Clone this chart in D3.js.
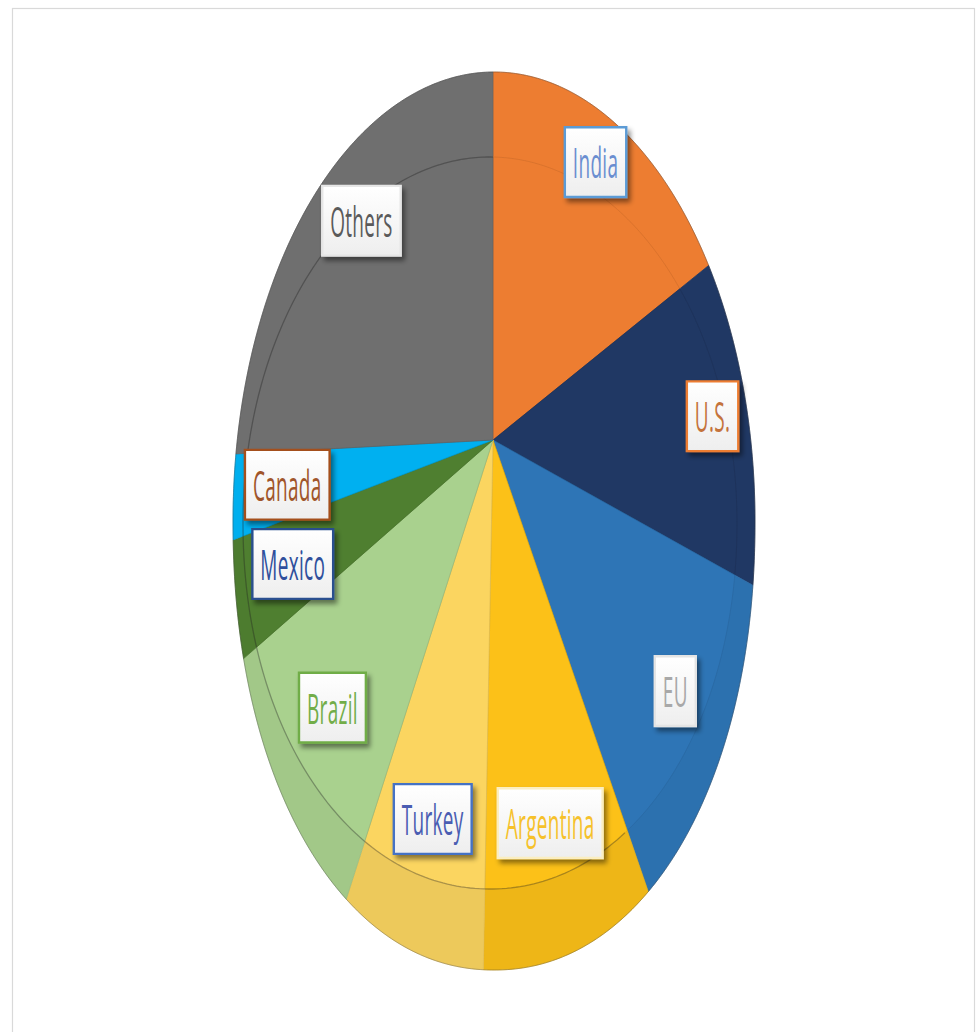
<!DOCTYPE html>
<html><head><meta charset="utf-8">
<script src="https://cdn.jsdelivr.net/npm/d3@7"></script>
<style>html,body{margin:0;padding:0;background:#fff;} svg{display:block;}</style>
</head><body>
<svg id="chart" width="980" height="1032"></svg>
<script>
// ---- data (percent share) ----
const categories = ["India", "U.S.", "EU", "Argentina", "Turkey", "Brazil", "Mexico", "Canada", "Others"];
const shares     = [18, 12, 11.5, 9, 7.5, 9.5, 4, 3, 25.5];
const sliceColors  = ["#ed7d31", "#203864", "#2e75b6", "#fcc118", "#fbd560", "#a9d18e", "#4f7f30", "#00b0f0", "#6f6f6f"];
const labelBorders = ["#5b9bd5", "#ed7d31", "#e4e4e4", "#fbeec0", "#4472c4", "#70ad47", "#2a4f8f", "#a4501c", "#e6e6e6"];
const labelColors  = ["#6a8ed0", "#c4733c", "#a8a8a8", "#f6c12a", "#4a5db2", "#72ad49", "#2f4f9c", "#a0552a", "#5a5a5a"];

// ---- layout ----
const svg = d3.select("#chart");
const apex = [493, 440];
const outerE = {cx: 494, cy: 521, rx: 261, ry: 449, nLow: 2.1};
const innerE = {cx: 490, cy: 523, rx: 247, ry: 366, nLow: 2.05};
const tilt = 1.72;

function inside(x, y, e) {
  const n = y > e.cy ? e.nLow : 2;
  return Math.pow(Math.abs((x - e.cx) / e.rx), n) + Math.pow(Math.abs((y - e.cy) / e.ry), n);
}
function rim(a, e) {
  const dx = Math.sin(a), dy = -Math.cos(a) * tilt;
  let lo = 0, hi = 1200;
  for (let k = 0; k < 40; k++) {
    const m = (lo + hi) / 2;
    if (inside(apex[0] + dx * m, apex[1] + dy * m, e) < 1) lo = m; else hi = m;
  }
  return [apex[0] + dx * lo, apex[1] + dy * lo];
}
function slicePts(s, e, ell) {
  const n = Math.max(2, Math.ceil((e - s) / (Math.PI / 360)));
  const pts = [apex];
  for (let i = 0; i <= n; i++) pts.push(rim(s + (e - s) * i / n, ell));
  return pts;
}
const line = d3.line();
const arcs = d3.pie().sort(null).value(d => d)(shares);

// frame
svg.append("rect").attr("x", 12.5).attr("y", 8.5).attr("width", 962).attr("height", 1040)
  .attr("fill", "#fff").attr("stroke", "#d9d9d9").attr("stroke-width", 1.2);

// side / bevel band
svg.append("g").selectAll("path").data(arcs).join("path")
  .attr("d", d => line(slicePts(d.startAngle, d.endAngle, outerE)) + "Z")
  .attr("fill", (d, i) => {
    const mid = (d.startAngle + d.endAngle) / 2;
    return d3.color(sliceColors[i]).darker(0.17 * Math.max(0, -Math.cos(mid))).formatHex();
  })
  .attr("stroke", (d, i) => d3.color(sliceColors[i]).darker(0.3).formatHex())
  .attr("stroke-width", 0.7);

// top face
svg.append("g").selectAll("path").data(arcs).join("path")
  .attr("d", d => line(slicePts(d.startAngle, d.endAngle, innerE)) + "Z")
  .attr("fill", (d, i) => sliceColors[i])
  .attr("stroke", (d, i) => d3.color(sliceColors[i]).darker(0.35).formatHex())
  .attr("stroke-width", 0.7);

// bevel edge line (visible from the lower right round to the top)
const ringPts = d3.range(150, 361, 1).map(k => rim(k * Math.PI / 180, innerE));
svg.append("path").attr("d", line(ringPts)).attr("fill", "none")
  .attr("stroke", "rgba(40,40,40,0.32)").attr("stroke-width", 1.3);
// outer outline
const outPts = d3.range(0, 361, 1).map(k => rim(k * Math.PI / 180, outerE));
svg.append("path").attr("d", line(outPts)).attr("fill", "none")
  .attr("stroke", "rgba(60,60,60,0.3)").attr("stroke-width", 1);

// shadow filter
const defs = svg.append("defs");
const f = defs.append("filter").attr("id", "sh").attr("x", "-30%").attr("y", "-30%").attr("width", "170%").attr("height", "170%");
f.append("feDropShadow").attr("dx", 3).attr("dy", 1.8).attr("stdDeviation", "2.4 1.3")
  .attr("flood-color", "#000").attr("flood-opacity", 0.45);
const grad = defs.append("linearGradient").attr("id", "lg").attr("x1", 0).attr("y1", 0).attr("x2", 0).attr("y2", 1);
grad.append("stop").attr("offset", 0).attr("stop-color", "#ffffff");
grad.append("stop").attr("offset", 1).attr("stop-color", "#eeeeee");

// labels
const sy = 2.25;
const lg = svg.append("g").selectAll("g").data(arcs).join("g")
  .attr("transform", d => {
    const mid = (d.startAngle + d.endAngle) / 2;
    const r = rim(mid, outerE);
    const s = Math.sin(mid), c = Math.cos(mid);
    const t = 0.80 + 0.06 * c * (s < 0 && c > 0 ? 0.3 : 1) + 0.06 * Math.max(0, s) ** 2;
    const x = apex[0] + t * (r[0] - apex[0]), y = apex[1] + t * (r[1] - apex[1]);
    return `translate(${x},${y}) scale(1,${sy})`;
  });
lg.each(function(d, i) {
  const g = d3.select(this);
  const rect = g.append("rect");
  const txt = g.append("text").text(categories[i])
    .attr("text-anchor", "middle").attr("y", 7.2)
    .attr("font-family", "'Open Sans', 'Noto Sans', sans-serif")
    .attr("font-size", 19).attr("letter-spacing", 0.3)
    .attr("fill", labelColors[i]);
  const bb = txt.node().getBBox();
  const w = bb.width + 16, h = 31;
  rect.attr("x", -w / 2).attr("y", -h / 2).attr("width", w).attr("height", h)
    .attr("fill", "url(#lg)").attr("stroke", labelBorders[i]).attr("stroke-width", 2.4)
    .attr("vector-effect", "non-scaling-stroke").attr("filter", "url(#sh)");
});
</script>
</body></html>
